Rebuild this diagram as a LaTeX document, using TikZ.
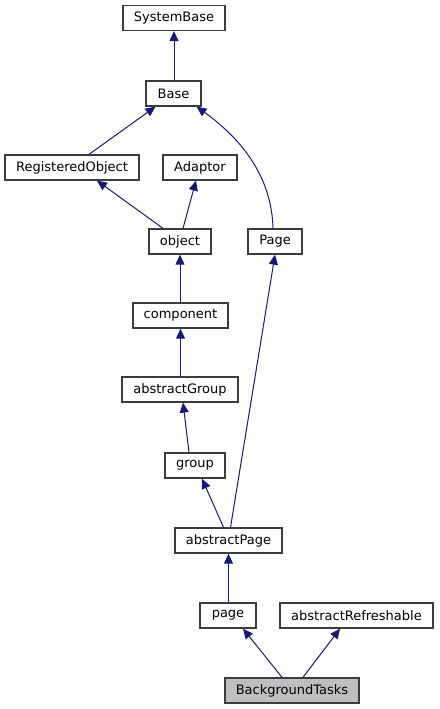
\documentclass[tikz,border=0pt]{standalone}
\usepackage{fontspec}
\setmainfont{DejaVu Sans}
\usetikzlibrary{arrows.meta}
\definecolor{edgeblue}{RGB}{25,25,112}
\definecolor{boxline}{RGB}{60,60,60}
\definecolor{boxgray}{RGB}{191,191,191}

\begin{document}
\begin{tikzpicture}
  [x=1pt,y=-1pt,
   cls/.style={rectangle,draw=boxline,line width=1.3pt,fill=white,minimum height=25pt,
     inner sep=0pt,font=\fontsize{13}{15}\selectfont},
   inh/.style={edgeblue,line width=1pt,{Triangle[length=10pt,width=9pt]}-}]
  \useasboundingbox (0,0) rectangle (439,709);

  \node[cls,minimum width=102pt] (sysbase) at (174,18)    {SystemBase};
  \node[cls,minimum width=55pt]  (base)    at (173.5,93.5) {Base};
  \node[cls,minimum width=134pt] (regobj)  at (72,167.5)   {RegisteredObject};
  \node[cls,minimum width=74pt]  (adaptor) at (200,167.5)  {Adaptor};
  \node[cls,minimum width=62pt]  (object)  at (180,241.5)  {object};
  \node[cls,minimum width=54pt]  (Page)    at (275,241.5)  {Page};
  \node[cls,minimum width=95pt]  (comp)    at (180.5,315.5) {component};
  \node[cls,minimum width=116pt] (agroup)  at (180,389.5)  {abstractGroup};
  \node[cls,minimum width=60pt]  (group)   at (195,465.5)  {group};
  \node[cls,minimum width=107pt] (apage)   at (228.5,540.5) {abstractPage};
  \node[cls,minimum width=56pt]  (page)    at (228,615.5)  {page};
  \node[cls,minimum width=153pt] (arefr)   at (356.5,615.5) {abstractRefreshable};
  \node[cls,fill=boxgray,minimum width=134pt] (bgtasks) at (292,690.5) {BackgroundTasks};

  \draw[inh] (sysbase.south) -- (sysbase.south |- base.north);
  \draw[inh] ([xshift=-18pt]base.south) -- ([xshift=17pt]regobj.north);
  \draw[inh] ([xshift=23pt]base.south) .. controls (250,145) and (272,185) .. ([xshift=-2pt]Page.north);
  \draw[inh] ([xshift=25pt]regobj.south) -- ([xshift=-17pt]object.north);
  \draw[inh] ([xshift=-4pt]adaptor.south) -- ([xshift=3pt]object.north);
  \draw[inh] (object.south) -- (object.south |- comp.north);
  \draw[inh] (comp.south) -- (comp.south |- agroup.north);
  \draw[inh] ([xshift=3pt]agroup.south) -- ([xshift=-6pt]group.north);
  \draw[inh] ([xshift=7pt]group.south) -- ([xshift=-5pt]apage.north);
  \draw[inh] (Page.south) -- ([xshift=2pt]apage.north);
  \draw[inh] (apage.south) -- (apage.south |- page.north);
  \draw[inh] ([xshift=15pt]page.south) -- ([xshift=-10pt]bgtasks.north);
  \draw[inh] ([xshift=-16.5pt]arefr.south) -- ([xshift=11pt]bgtasks.north);

\end{tikzpicture}
\end{document}
